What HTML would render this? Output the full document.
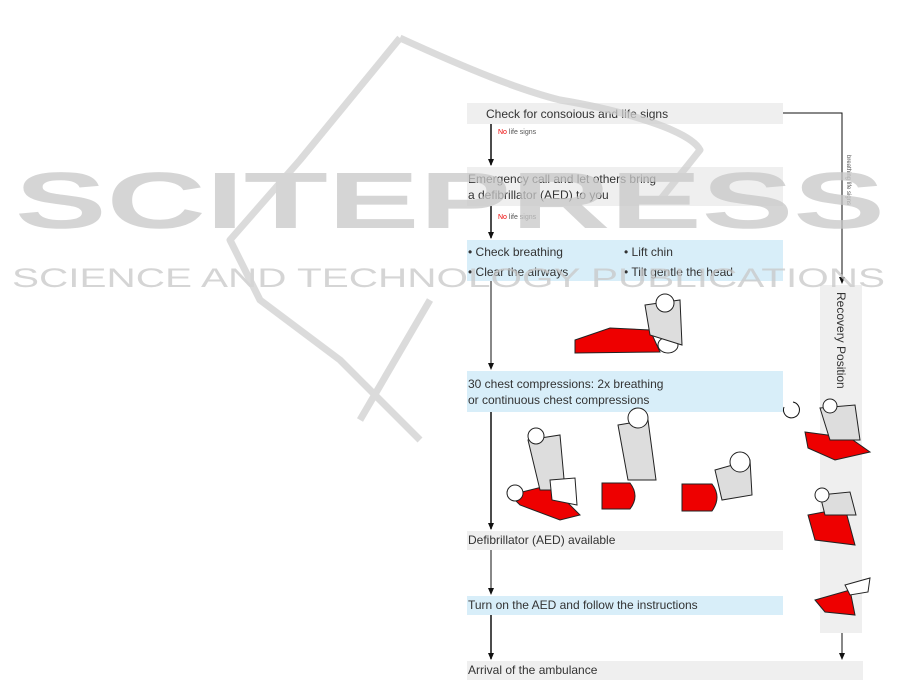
<!DOCTYPE html>
<html><head><meta charset="utf-8"><style>
body{margin:0;width:901px;height:695px;background:#fff;overflow:hidden;position:relative;font-family:"Liberation Sans",sans-serif}
.b{position:absolute;left:467px;width:316px;font-size:12px;color:#333}
.g{background:#efefef}.bl{background:#d8eef9}
</style></head><body>
<div class="b g" style="top:103px;height:21px"><span style="position:absolute;left:19px;top:4px">Check for consoious and life signs</span></div>
<div class="b g" style="top:167px;height:39px"><span style="position:absolute;left:1px;top:4px;line-height:16px">Emergency call and let others bring<br>a defibrillator (AED) to you</span></div>
<div class="b bl" style="top:240px;height:41px"><span style="position:absolute;left:1px;top:2px;line-height:20px">• Check breathing<br>• Clear the airways</span><span style="position:absolute;left:157px;top:2px;line-height:20px">• Lift chin<br>• Tilt gentle the head</span></div>
<div class="b bl" style="top:371px;height:41px"><span style="position:absolute;left:1px;top:5px;line-height:16px">30 chest compressions: 2x breathing<br>or continuous chest compressions</span></div>
<div class="b g" style="top:531px;height:19px"><span style="position:absolute;left:1px;top:2px">Defibrillator (AED) available</span></div>
<div class="b bl" style="top:596px;height:19px"><span style="position:absolute;left:1px;top:2px">Turn on the AED and follow the instructions</span></div>
<div class="b g" style="top:661px;height:19px;width:396px"><span style="position:absolute;left:1px;top:2px">Arrival of the ambulance</span></div>
<div class="g" style="position:absolute;left:820px;top:285px;width:42px;height:348px"></div>
<div style="position:absolute;left:834px;top:292px;writing-mode:vertical-rl;font-size:12px;color:#333">Recovery Position</div>
<div style="position:absolute;left:498px;top:129px;font-size:7px;color:#555"><span style="color:#e00">No</span> life signs</div>
<div style="position:absolute;left:498px;top:214px;font-size:7px;color:#555"><span style="color:#e00">No</span> life signs</div>
<div style="position:absolute;left:845px;top:155px;writing-mode:vertical-rl;font-size:6px;color:#555">breathing life signs</div>
<svg width="901" height="695" style="position:absolute;left:0;top:0">
<defs><marker id="a" markerUnits="userSpaceOnUse" markerWidth="8" markerHeight="8" refX="6" refY="4" orient="auto"><path d="M0 1L7 4L0 7z" fill="#111"/></marker></defs>
<g stroke="#111" stroke-width="1.5" fill="none">
<line x1="491" y1="124" x2="491" y2="165" marker-end="url(#a)"/>
<line x1="491" y1="206" x2="491" y2="238" marker-end="url(#a)"/>
<line x1="491" y1="281" x2="491" y2="369" stroke-width="1" marker-end="url(#a)"/>
<line x1="491" y1="412" x2="491" y2="529" marker-end="url(#a)"/>
<line x1="491" y1="550" x2="491" y2="594" stroke-width="1" marker-end="url(#a)"/>
<line x1="491" y1="615" x2="491" y2="659" marker-end="url(#a)"/>
<polyline points="783,113 842,113 842,283" stroke-width="1" marker-end="url(#a)"/>
<line x1="842" y1="633" x2="842" y2="659" stroke-width="1" marker-end="url(#a)"/>
<path d="M784 407 A8 8 0 1 0 793 402" stroke-width="1"/>
</g>
<g stroke="#222" stroke-width="1">
<path d="M575 340 L610 328 L650 330 L660 352 L575 353 Z" fill="#e00"/>
<ellipse cx="668" cy="345" rx="10" ry="8" fill="#fff"/>
<path d="M645 305 L680 300 L682 345 L650 335Z" fill="#ddd"/>
<circle cx="665" cy="303" r="9" fill="#fff"/>
<path d="M510 495 L550 485 L580 515 L560 520 L520 505Z" fill="#e00"/>
<circle cx="515" cy="493" r="8" fill="#fff"/>
<path d="M528 440 L560 435 L565 490 L540 490Z" fill="#ddd"/>
<circle cx="536" cy="436" r="8" fill="#fff"/>
<path d="M550 480 L575 478 L577 505 L552 500Z" fill="#fff"/>
<path d="M602 483 L630 483 Q640 496 630 509 L602 509Z" fill="#e00"/>
<path d="M618 425 L648 420 L656 480 L628 480Z" fill="#ddd"/>
<circle cx="638" cy="418" r="10" fill="#fff"/>
<path d="M682 484 L712 484 Q722 497 712 511 L682 511Z" fill="#e00"/>
<path d="M715 470 L750 460 L752 495 L722 500Z" fill="#ddd"/>
<circle cx="740" cy="462" r="10" fill="#fff"/>
<path d="M805 432 L850 438 L870 452 L835 460 L808 448Z" fill="#e00"/>
<path d="M820 408 L855 405 L860 440 L830 440Z" fill="#ddd"/>
<circle cx="830" cy="406" r="7" fill="#fff"/>
<path d="M808 515 L845 508 L855 545 L815 540Z" fill="#e00"/>
<path d="M820 495 L850 492 L856 515 L825 515Z" fill="#ddd"/>
<circle cx="822" cy="495" r="7" fill="#fff"/>
<path d="M815 600 L850 590 L855 615 L825 612Z" fill="#e00"/>
<path d="M845 585 L870 578 L868 592 L850 595Z" fill="#fff"/>
</g>
</svg>
<svg width="901" height="695" style="position:absolute;left:0;top:0;opacity:0.75">
<g fill="none" stroke="#cfcfcf" stroke-width="7" stroke-linejoin="round">
<path d="M400 38 L300 160 L230 240 L260 300 L340 360 L380 400 L420 440"/>
<path d="M400 38 C470 70 520 90 560 100 C620 110 690 130 700 150 L660 200"/>
<path d="M430 300 L360 420"/>
</g>
<text x="15" y="228" font-size="80" font-weight="bold" fill="#c8c8c8" textLength="870" lengthAdjust="spacingAndGlyphs" font-family="Liberation Sans">SCITEPRESS</text>
<text x="12" y="287" font-size="27" fill="#c8c8c8" textLength="873" lengthAdjust="spacingAndGlyphs" font-family="Liberation Sans">SCIENCE AND TECHNOLOGY PUBLICATIONS</text>
</svg>
</body></html>
